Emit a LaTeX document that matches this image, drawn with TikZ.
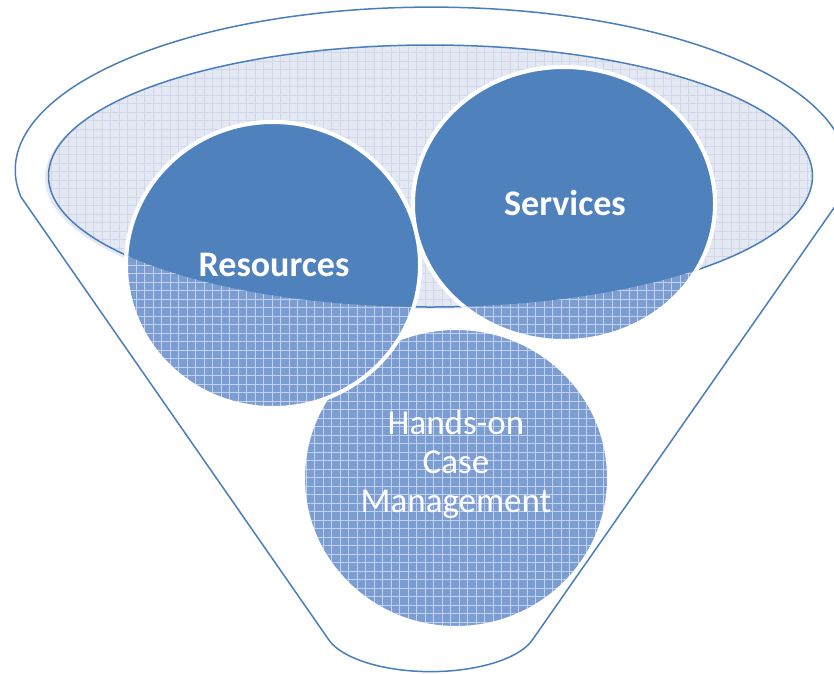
\documentclass[tikz,border=0pt]{standalone}
\usepackage{fontspec}
\setmainfont{Carlito}
\usepackage{tikz}
\usetikzlibrary{patterns.meta}
\definecolor{funnelblue}{HTML}{4A7EBB}
\definecolor{ballblue}{HTML}{4F81BD}
\definecolor{patblue}{HTML}{7C9DD2}
\definecolor{patline}{HTML}{C2D2EE}
\definecolor{rimfill}{HTML}{E3E8F3}
\definecolor{rimline}{HTML}{D0D7EA}

\begin{document}
\begin{tikzpicture}[x=1pt, y=-1pt,
    rimpat/.style={fill=rimfill,
        postaction={pattern={Lines[distance=8.5pt, angle=0, line width=0.7pt]}, pattern color=rimline},
        postaction={pattern={Lines[distance=8.5pt, angle=90, line width=0.7pt]}, pattern color=rimline}},
    ballpat/.style={fill=patblue,
        postaction={pattern={Lines[distance=8.5pt, angle=0, line width=0.8pt]}, pattern color=patline},
        postaction={pattern={Lines[distance=8.5pt, angle=90, line width=0.8pt]}, pattern color=patline},
        postaction={draw=white, line width=4pt}},
    ballsolid/.style={fill=ballblue, draw=white, line width=4pt},
    bigword/.style={text=white, font=\fontsize{36}{40}\selectfont\bfseries, inner sep=0pt, anchor=base},
    smallword/.style={text=white, font=\fontsize{35}{39}\selectfont, inner sep=0pt, align=center}]
    \useasboundingbox (0,0) rectangle (834,673);
    \draw [funnelblue, line width=1.5pt, fill=white] (21,197) arc [start angle=170.5, end angle=369.5, x radius=416, y radius=163] -- (533,639) arc [start angle=15, end angle=165, x radius=106, y radius=44] -- cycle;
    \fill [rimfill] (427,178) ellipse [x radius=382, y radius=131];
    \path [rimpat] (430.5,176) ellipse [x radius=382, y radius=131];
    \draw [funnelblue, line width=1.5pt] (430.5,176) ellipse [x radius=382, y radius=131];
    \path [ballpat] (456,478) ellipse [x radius=153, y radius=150];
    \path [ballpat] (273,265) ellipse [x radius=147, y radius=143];
    \path [ballpat] (564,204) ellipse [x radius=151, y radius=137];
    \begin{scope}
        \clip (430.5,176) ellipse [x radius=382, y radius=131];
        \path [ballsolid] (273,265) ellipse [x radius=147, y radius=143];
        \path [ballsolid] (564,204) ellipse [x radius=151, y radius=137];
    \end{scope}
    \node (res) [bigword] at (274,276) {Resources};
    \node (serv) [bigword] at (565,215) {Services};
    \node (hands) [smallword, anchor=base] at (456,512) {Hands-on\\Case\\Management};
\end{tikzpicture}
\end{document}
